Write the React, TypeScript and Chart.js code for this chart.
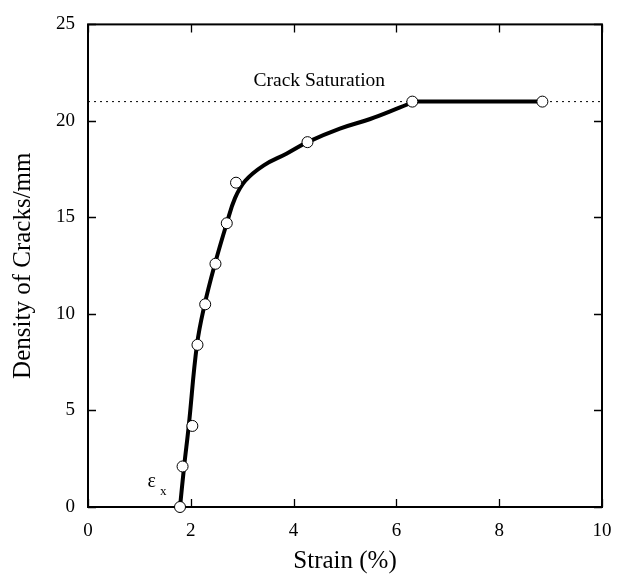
import React, { useEffect, useRef } from 'react';
import { Chart, registerables } from 'chart.js';

Chart.register(...registerables);

// Measured data points (open circles)
const strainPoints = [1.79, 1.84, 2.03, 2.13, 2.28, 2.48, 2.7, 2.88, 4.27, 6.31, 8.84];
const densityPoints = [0, 2.1, 4.2, 8.4, 10.5, 12.6, 14.7, 16.8, 18.9, 21.0, 21.0];

// Fitted curve (thick line), rising part
const curveStrain = [1.79, 1.87, 1.96, 2.12, 2.27, 2.47, 2.7, 2.86, 3.06, 3.42, 3.86, 4.27, 4.9, 5.49, 6.07, 6.35];
const curveDensity = [0, 2.1, 4.2, 8.4, 10.5, 12.6, 14.7, 16.0, 16.9, 17.7, 18.3, 18.9, 19.6, 20.1, 20.7, 21.0];

// Fitted curve, plateau part
const plateauStrain = [6.35, 8.84];
const plateauDensity = [21.0, 21.0];

// Crack saturation level (dotted line)
const saturationLevel = 21;
const saturationSpan = [0, 10];

const xTicks = [0, 2, 4, 6, 8, 10];
const yTicks = [0, 5, 10, 15, 20, 25];

const xTitle = 'Strain (%)';
const yTitle = 'Density of Cracks/mm';
const saturationLabel = 'Crack Saturation';
const saturationLabelPos = [3.22, 21.82];
const epsLabelPos = [1.16, 1.05];
const epsSubPos = [1.4, 0.62];

const FONT = "'Liberation Serif', 'Times New Roman', serif";

const framePlugin = {
  id: 'frameTicks',
  beforeDatasetsDraw(chart: any) {
    const { ctx, chartArea, scales } = chart;
    const { left, right, top, bottom } = chartArea;
    const x = scales.x;
    const y = scales.y;
    ctx.save();
    ctx.strokeStyle = '#000';
    ctx.lineWidth = 1.3;
    const tl = 8;
    ctx.beginPath();
    for (const v of xTicks) {
      const px = Math.round(x.getPixelForValue(v)) + 0.5;
      ctx.moveTo(px, bottom);
      ctx.lineTo(px, bottom - tl);
      ctx.moveTo(px, top);
      ctx.lineTo(px, top + tl);
    }
    for (const v of yTicks) {
      const py = Math.round(y.getPixelForValue(v)) + 0.5;
      ctx.moveTo(left, py);
      ctx.lineTo(left + tl, py);
      ctx.moveTo(right, py);
      ctx.lineTo(right - tl, py);
    }
    ctx.stroke();
    ctx.lineWidth = 2;
    ctx.strokeRect(left, top, right - left, bottom - top);
    ctx.restore();
  },
  afterDraw(chart: any) {
    const { ctx, scales } = chart;
    const x = scales.x;
    const y = scales.y;
    ctx.save();
    ctx.fillStyle = '#000';
    ctx.textBaseline = 'alphabetic';
    ctx.textAlign = 'left';
    ctx.font = `19.5px ${FONT}`;
    ctx.fillText(saturationLabel, x.getPixelForValue(saturationLabelPos[0]), y.getPixelForValue(saturationLabelPos[1]));
    ctx.font = `20px ${FONT}`;
    ctx.fillText('ε', x.getPixelForValue(epsLabelPos[0]), y.getPixelForValue(epsLabelPos[1]));
    ctx.font = `13px ${FONT}`;
    ctx.fillText('x', x.getPixelForValue(epsSubPos[0]), y.getPixelForValue(epsSubPos[1]));
    ctx.restore();
  },
};

export default function App() {
  const canvasRef = useRef<HTMLCanvasElement | null>(null);

  useEffect(() => {
    if (!canvasRef.current) return;
    const chart = new Chart(canvasRef.current, {
      type: 'scatter',
      data: {
        datasets: [
          {
            label: 'Measured',
            data: strainPoints.map((v, i) => ({ x: v, y: densityPoints[i] })),
            showLine: false,
            pointRadius: 5.5,
            pointBackgroundColor: '#fff',
            pointBorderColor: '#000',
            pointBorderWidth: 1,
            order: 0,
            clip: false,
          } as any,
          {
            label: 'Curve',
            data: curveStrain.map((v, i) => ({ x: v, y: curveDensity[i] })),
            showLine: true,
            borderColor: '#000',
            borderWidth: 4,
            pointRadius: 0,
            tension: 0.4,
            order: 1,
            clip: false,
          } as any,
          {
            label: 'Plateau',
            data: plateauStrain.map((v, i) => ({ x: v, y: plateauDensity[i] })),
            showLine: true,
            borderColor: '#000',
            borderWidth: 4,
            pointRadius: 0,
            tension: 0,
            order: 1,
          } as any,
          {
            label: 'Saturation',
            data: saturationSpan.map((v) => ({ x: v, y: saturationLevel })),
            showLine: true,
            borderColor: '#000',
            borderWidth: 1,
            borderDash: [2, 4],
            pointRadius: 0,
            order: 2,
          } as any,
        ],
      },
      options: {
        animation: false,
        responsive: true,
        maintainAspectRatio: false,
        layout: { padding: { top: 20, right: 24, left: 0, bottom: 0 } },
        plugins: { legend: { display: false }, tooltip: { enabled: false } },
        scales: {
          x: {
            type: 'linear',
            min: 0,
            max: 10,
            afterFit: (s: any) => { s.height = 69; },
            afterBuildTicks: (s: any) => { s.ticks = xTicks.map((v) => ({ value: v })); },
            grid: { display: false, drawTicks: false },
            border: { display: false },
            ticks: { font: { family: FONT, size: 19 }, color: '#000', padding: 13 },
            title: { display: true, text: xTitle, font: { family: FONT, size: 25 }, color: '#000', padding: { top: 0, bottom: 0 } },
          },
          y: {
            type: 'linear',
            min: 0,
            max: 25,
            afterFit: (s: any) => { s.width = 88; },
            afterBuildTicks: (s: any) => { s.ticks = yTicks.map((v) => ({ value: v })); },
            grid: { display: false, drawTicks: false },
            border: { display: false },
            ticks: { font: { family: FONT, size: 19 }, color: '#000', padding: 13 },
            title: { display: true, text: yTitle, font: { family: FONT, size: 25 }, color: '#000', padding: { top: 8, bottom: 0 } },
          },
        },
      },
      plugins: [framePlugin],
    });
    return () => chart.destroy();
  }, []);

  return (
    <div style={{ position: 'fixed', left: 0, top: 0, width: 626, height: 576, background: '#fff' }}>
      <canvas ref={canvasRef} />
    </div>
  );
}
